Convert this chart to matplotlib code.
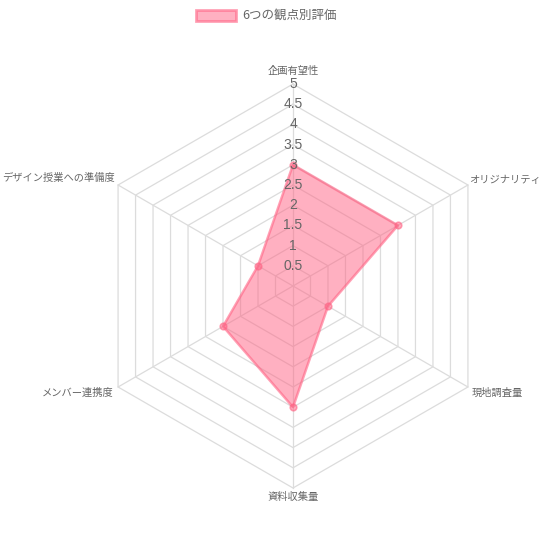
import numpy as np
import matplotlib
matplotlib.use("Agg")
import matplotlib.pyplot as plt
from matplotlib.patches import Polygon, Rectangle

plt.rcParams['font.family'] = ['Noto Sans CJK JP', 'DejaVu Sans']

categories = ["企画有望性", "オリジナリティ", "現地調査量", "資料収集量", "メンバー連携度", "デザイン授業への準備度"]
values = [3, 3, 1, 3, 2, 1]
series_label = "6つの観点別評価"
tick_values = [0.5, 1, 1.5, 2, 2.5, 3, 3.5, 4, 4.5, 5]
r_max = 5

fill_color = (1.0, 99 / 255, 132 / 255, 0.5)
edge_color = (1.0, 99 / 255, 132 / 255, 0.6)
grid_color = "#dcdcdc"
text_color = "#666666"

W = H = 540
cx, cy = 293, 286          # centre of the web in pixels
px_per_unit = 40.4         # pixels per value unit

fig = plt.figure(figsize=(5.4, 5.4), dpi=100)
ax = fig.add_axes([0, 0, 1, 1])
ax.set_xlim(-cx / px_per_unit, (W - cx) / px_per_unit)
ax.set_ylim(-(H - cy) / px_per_unit, cy / px_per_unit)
ax.axis("off")

n = len(categories)
angles = np.pi / 2 - np.arange(n) * 2 * np.pi / n
ux, uy = np.cos(angles), np.sin(angles)

# hexagonal grid rings
for t in tick_values:
    xs = np.append(ux * t, ux[0] * t)
    ys = np.append(uy * t, uy[0] * t)
    ax.plot(xs, ys, color=grid_color, lw=0.9, zorder=1)

# spokes
for i in range(n):
    ax.plot([0, ux[i] * r_max], [0, uy[i] * r_max], color=grid_color, lw=0.9, zorder=1)

# data polygon
vals = np.array(values, dtype=float)
pts = np.column_stack([ux * vals, uy * vals])
ax.add_patch(Polygon(pts, closed=True, facecolor=fill_color, edgecolor=edge_color,
                     lw=1.8, joinstyle="round", zorder=3))
ax.scatter(pts[:, 0], pts[:, 1], s=22, color=fill_color, edgecolor=edge_color,
           linewidth=1.2, zorder=4)

# radial tick labels
for t in tick_values:
    ax.text(0, t, f"{t:g}", ha="center", va="center", fontsize=10,
            color=text_color, zorder=5, family=["Liberation Sans", "DejaVu Sans"])

# category labels
off = 1 / px_per_unit
label_pos = [
    (0, 8 * off, "center", "bottom"),
    (1 * off, 5 * off, "left", "center"),
    (4 * off, -6 * off, "left", "center"),
    (0, -4 * off, "center", "top"),
    (-4 * off, -6 * off, "right", "center"),
    (-3 * off, 7 * off, "right", "center"),
]
for i, cat in enumerate(categories):
    dx, dy, ha, va = label_pos[i]
    ax.text(ux[i] * r_max + dx, uy[i] * r_max + dy, cat, ha=ha, va=va,
            fontsize=7.4, color=text_color)

# legend
lx0, ly0 = 196, 10
fig.add_artist(Rectangle((lx0 / W, 1 - (ly0 + 11) / H), 40 / W, 11 / H,
                         transform=fig.transFigure, facecolor=fill_color,
                         edgecolor=edge_color, lw=2))
fig.text((lx0 + 46) / W, 1 - (ly0 + 5.5) / H, series_label, ha="left", va="center",
         fontsize=9, color=text_color)

fig.savefig("out.png", dpi=100)
